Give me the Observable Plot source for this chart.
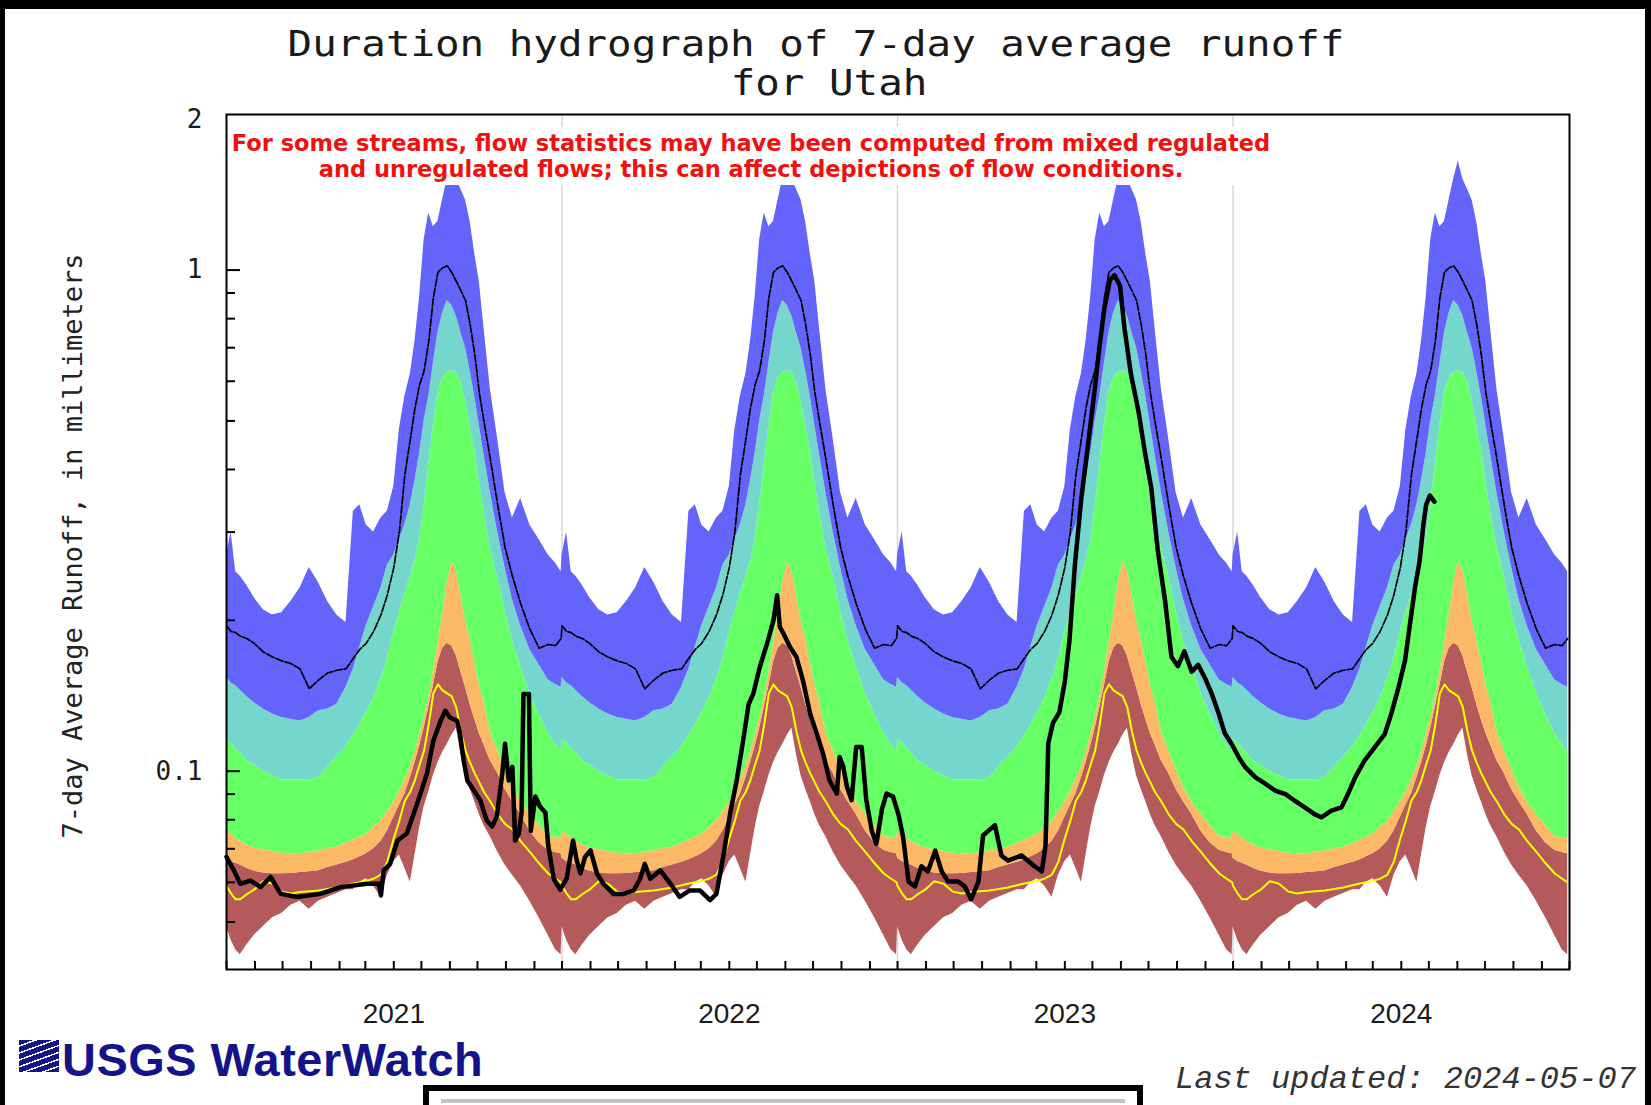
<!DOCTYPE html>
<html>
<head>
<meta charset="utf-8">
<script src="https://cdn.jsdelivr.net/npm/d3@7"></script>
<script src="https://cdn.jsdelivr.net/npm/@observablehq/plot@0.6"></script>
<style>
  html, body { margin: 0; padding: 0; background: #fff; }
  #page { position: relative; width: 1651px; height: 1105px; overflow: hidden; background: #fff; }
  #chart { position: absolute; left: 0; top: 0; }
  #chart svg { display: block; max-width: none; }
  .abs { position: absolute; white-space: nowrap; line-height: 1; }
  .blk { position: absolute; background: #000; }
</style>
</head>
<body>
<div id="page">
  <div id="chart"></div>

  <!-- white note box over the top of the plot, as in the reference -->
  <div class="abs" style="left:228px;top:127px;width:1057px;height:58px;background:#fff;"></div>
  <div class="abs" style="left:751px;top:130px;transform:translateX(-50%);font:bold 22.5px 'DejaVu Sans';line-height:26px;color:#f01010;text-align:center;">For some streams, flow statistics may have been computed from mixed regulated<br>and unregulated flows; this can affect depictions of flow conditions.</div>

  <div class="abs" style="left:815.5px;top:25.5px;font-size:36px;font-family:'DejaVu Sans Mono';color:#1a1a1a;transform:translateX(-50%) scaleX(1.134);">Duration hydrograph of 7-day average runoff</div>
  <div class="abs" style="left:829px;top:64.5px;font-size:36px;font-family:'DejaVu Sans Mono';color:#1a1a1a;transform:translateX(-50%) scaleX(1.134);">for Utah</div>

  <div class="abs" style="left:72px;top:546px;font-size:27px;font-family:'DejaVu Sans Mono';color:#222;transform:translate(-50%,-50%) rotate(-90deg);">7-day Average Runoff, in millimeters</div>

  <!-- USGS WaterWatch logo -->
  <div class="abs" style="left:19px;top:1040px;width:40px;height:32px;background:repeating-linear-gradient(160deg,#14148a 0px,#14148a 5px,#ffffff 5px,#ffffff 6.5px);"></div>
  <div class="abs" style="left:62px;top:1033px;font:bold 46px 'Liberation Sans';letter-spacing:0.5px;color:#14148a;transform-origin:0 0;transform:scaleX(1.02);">USGS WaterWatch</div>

  <div class="abs" style="left:1175px;top:1061px;font:italic 32px 'Liberation Mono';color:#333;">Last updated: 2024-05-07</div>

  <!-- bottom framed panel (cut off by the picture edge) -->
  <div class="abs" style="left:423px;top:1085px;width:708px;height:40px;border:6px solid #000;background:#fff;"></div>
  <div class="abs" style="left:441px;top:1099px;width:684px;height:4px;background:#c4c4c4;"></div>

  <!-- black picture border -->
  <div class="blk" style="left:0;top:0;width:1651px;height:9px;"></div>
  <div class="blk" style="left:0;top:0;width:5px;height:1105px;"></div>
  <div class="blk" style="left:1645px;top:0;width:6px;height:1105px;"></div>
</div>

<script>
// ---------- DATA ----------
// Water years shown (start year of each water year: Oct 1 .. Sep 30)
const waterYearStarts = [2020, 2021, 2022, 2023];

// Day of water year (0 = Oct 1) at which the daily statistics were read
const climDay = [0,5,10,15,22,30,40,50,60,70,80,90,100,110,120,130,138,145,152,160,168,175,182,188,194,200,205,210,215,220,225,230,235,240,245,250,255,260,265,270,275,280,287,295,303,311,320,330,340,350,358,364];

// Percentile-class boundaries of the 7-day average runoff (mm)
const climMin = [0.049,0.046,0.044,0.043,0.045,0.047,0.049,0.051,0.052,0.054,0.055,0.053,0.055,0.056,0.057,0.058,0.058,0.060,0.061,0.059,0.056,0.062,0.066,0.068,0.064,0.060,0.068,0.077,0.085,0.091,0.098,0.104,0.109,0.113,0.118,0.122,0.108,0.098,0.092,0.087,0.082,0.078,0.074,0.069,0.065,0.062,0.059,0.055,0.051,0.047,0.044,0.043];
const climP10 = [0.067,0.066,0.0655,0.065,0.064,0.0632,0.0626,0.0624,0.0624,0.0625,0.0628,0.063,0.0633,0.0642,0.065,0.0658,0.0666,0.0675,0.0684,0.070,0.0725,0.076,0.081,0.0855,0.090,0.097,0.104,0.112,0.122,0.134,0.148,0.165,0.176,0.180,0.178,0.170,0.158,0.147,0.136,0.127,0.119,0.113,0.105,0.099,0.092,0.087,0.082,0.076,0.072,0.0695,0.0688,0.0684];
const climP25 = [0.076,0.075,0.0735,0.0725,0.0712,0.0703,0.0697,0.0692,0.0686,0.0684,0.0684,0.0688,0.0694,0.0700,0.0706,0.0718,0.0728,0.0738,0.0748,0.0772,0.0795,0.083,0.087,0.091,0.096,0.102,0.109,0.118,0.128,0.140,0.158,0.180,0.205,0.238,0.262,0.252,0.225,0.200,0.183,0.165,0.149,0.138,0.120,0.110,0.101,0.093,0.087,0.082,0.078,0.074,0.0738,0.0735];
const climP75 = [0.116,0.114,0.111,0.109,0.105,0.103,0.100,0.098,0.096,0.096,0.096,0.096,0.097,0.102,0.107,0.112,0.118,0.124,0.131,0.140,0.153,0.168,0.19,0.207,0.226,0.245,0.263,0.29,0.34,0.41,0.49,0.57,0.61,0.625,0.63,0.625,0.60,0.55,0.49,0.44,0.38,0.33,0.28,0.245,0.209,0.183,0.162,0.143,0.130,0.119,0.113,0.110];
const climP90 = [0.154,0.150,0.148,0.145,0.141,0.137,0.133,0.130,0.128,0.127,0.126,0.128,0.132,0.133,0.136,0.147,0.160,0.177,0.195,0.213,0.232,0.258,0.27,0.29,0.31,0.34,0.38,0.43,0.50,0.56,0.65,0.75,0.82,0.87,0.85,0.81,0.75,0.70,0.63,0.56,0.49,0.43,0.36,0.30,0.255,0.22,0.195,0.175,0.163,0.152,0.149,0.147];
const climMax = [0.27,0.30,0.25,0.245,0.235,0.222,0.21,0.205,0.207,0.218,0.232,0.255,0.238,0.218,0.205,0.198,0.33,0.34,0.31,0.30,0.32,0.33,0.37,0.48,0.56,0.62,0.72,0.88,1.15,1.30,1.22,1.25,1.38,1.52,1.65,1.52,1.45,1.38,1.25,1.08,0.95,0.77,0.58,0.46,0.36,0.32,0.35,0.31,0.29,0.27,0.26,0.25];
// Thin black (dashed) statistic line and yellow statistic line
const climMean = [0.195,0.190,0.189,0.186,0.184,0.180,0.173,0.169,0.166,0.164,0.160,0.146,0.152,0.157,0.159,0.160,0.168,0.175,0.180,0.190,0.205,0.225,0.255,0.30,0.39,0.46,0.53,0.59,0.63,0.72,0.88,0.99,1.01,1.02,0.99,0.95,0.91,0.87,0.78,0.68,0.57,0.50,0.42,0.34,0.28,0.245,0.216,0.192,0.176,0.179,0.178,0.184];
const climYellow = [0.0590,0.0570,0.0555,0.0555,0.0568,0.0580,0.0603,0.0596,0.0575,0.0570,0.0574,0.0576,0.0578,0.0582,0.0586,0.0592,0.0597,0.0600,0.0604,0.0610,0.0622,0.0660,0.0735,0.0796,0.0873,0.091,0.096,0.103,0.110,0.124,0.143,0.149,0.145,0.143,0.141,0.134,0.120,0.110,0.104,0.099,0.095,0.091,0.087,0.082,0.0785,0.0765,0.0725,0.0690,0.0655,0.0625,0.0610,0.0600];

// Observed 7-day average runoff (thick black line): days since 2020-10-01 and value (mm)
const obsDay = [0,8,15,26,37,48,59,77,102,124,153,166,168,171,178,186,196,204,211,218,225,233,238,243,251,254,258,262,269,276,283,289,294,300,303,307,311,314,318,321,323,329,331,336,341,347,350,356,363,
  370,377,381,385,390,396,403,410,421,432,443,450,455,461,472,483,493,504,515,526,533,541,548,555,562,568,573,580,588,595,599,602,606,613,620,627,635,642,649,656,664,667,671,675,680,685,691,696,702,707,713,718,725,731,736,742,
  749,756,763,771,778,785,796,803,810,818,823,829,836,843,850,865,879,887,891,894,899,906,912,917,923,930,937,945,950,955,961,966,972,977,984,992,999,1006,1013,1021,1028,1035,1042,1050,1057,1064,1071,1079,1086,1093,1102,
  1108,1119,1130,1141,1152,1162,1173,1184,1191,1202,1213,1220,1228,1238,1249,1260,1267,1275,1282,1287,1293,1298,1302,1305,1309,1314];
const obsRunoff = [0.0674,0.0634,0.0596,0.0605,0.0587,0.0615,0.0569,0.0561,0.0569,0.0587,0.0596,0.0596,0.0565,0.0634,0.0653,0.0727,0.0750,0.0826,0.0902,0.0988,0.115,0.126,0.132,0.128,0.126,0.119,0.105,0.0958,0.0916,0.0875,0.0798,0.0775,0.0811,0.0988,0.1134,0.0958,0.102,0.0727,0.075,0.0826,0.1426,0.1426,0.076,0.089,0.085,0.0826,0.071,0.061,0.058,
  0.061,0.0727,0.0664,0.0625,0.0674,0.0695,0.0625,0.0596,0.0569,0.0569,0.0578,0.061,0.0653,0.061,0.0634,0.0596,0.0561,0.0578,0.0578,0.0553,0.0569,0.0685,0.0826,0.0958,0.115,0.136,0.1426,0.161,0.1796,0.2,0.2244,0.194,0.188,0.177,0.169,0.152,0.130,0.119,0.1084,0.0958,0.0902,0.1067,0.102,0.093,0.0875,0.1118,0.1118,0.0875,0.076,0.0716,0.0839,0.0902,0.089,0.082,0.074,0.0602,
  0.0589,0.0646,0.0631,0.0694,0.0631,0.0602,0.0602,0.0589,0.0555,0.0602,0.0744,0.0761,0.078,0.0679,0.0663,0.0679,0.0646,0.0631,0.0711,0.1137,0.1247,0.131,0.151,0.182,0.259,0.351,0.445,0.589,0.711,0.838,0.954,0.977,0.931,0.763,0.618,0.524,0.434,0.368,0.277,0.219,0.169,0.162,0.1735,0.158,0.163,0.154,0.144,0.131,0.119,0.1137,0.106,
  0.102,0.0973,0.0944,0.0914,0.090,0.0873,0.0847,0.082,0.0809,0.0834,0.0847,0.090,0.0973,0.105,0.1116,0.1186,0.130,0.147,0.166,0.194,0.233,0.263,0.31,0.34,0.355,0.345];

// Axis labels / ticks
const yLabelTicks = [2, 1, 0.1];
const yMajorTicks = [1, 0.1];
const yMinorTicks = [0.05, 0.06, 0.07, 0.08, 0.09, 0.2, 0.3, 0.4, 0.5, 0.6, 0.7, 0.8, 0.9];
const yearLabels = [2021, 2022, 2023, 2024];   // water years, labelled at mid water year (Apr 1)
const gridYears = [2021, 2022, 2023];          // Oct 1 water-year boundaries
const bandColors = ["#b55a5a", "#fbb966", "#66ff66", "#74d6cc", "#6464fa"];
const yDomain = [0.0402, 2.044];

// ---------- build tables ----------
const utc = (y, m, d) => new Date(Date.UTC(y, m, d));
const clim = waterYearStarts.flatMap(y => climDay.map((d, i) => ({
  date: utc(y, 9, 1 + d),
  min: climMin[i], p10: climP10[i], p25: climP25[i], p75: climP75[i], p90: climP90[i], max: climMax[i],
  mean: climMean[i], yellow: climYellow[i]
})));
const obs = obsDay.map((d, i) => ({date: utc(2020, 9, 1 + d), v: obsRunoff[i]}));

const xStart = utc(waterYearStarts[0], 9, 1);
const xEnd = utc(waterYearStarts[waterYearStarts.length - 1] + 1, 9, 1);
const monthTicks = d3.utcMonth.range(xStart, utc(2024, 9, 2));
const yearLabelDates = yearLabels.map(y => utc(y, 3, 1));
const gridDates = gridYears.map(y => utc(y, 9, 1));

const W = 1651, H = 1105, mT = 114, mR = 82, mB = 136, mL = 226;
const plotW = W - mL - mR, plotH = H - mT - mB;

const chart = Plot.plot({
  width: W, height: H,
  marginTop: mT, marginRight: mR, marginBottom: mB, marginLeft: mL,
  style: {background: "transparent", fontFamily: "DejaVu Sans Mono", fontSize: "26px", color: "#1a1a1a", overflow: "visible"},
  x: {type: "utc", domain: [xStart, xEnd]},
  y: {type: "log", domain: yDomain},
  marks: [
    Plot.ruleX(gridDates, {x: d => d, stroke: "#d6d6d6", strokeWidth: 1.5}),
    Plot.areaY(clim, {x: "date", y1: "min", y2: "p10", fill: bandColors[0]}),
    Plot.areaY(clim, {x: "date", y1: "p10", y2: "p25", fill: bandColors[1]}),
    Plot.areaY(clim, {x: "date", y1: "p25", y2: "p75", fill: bandColors[2]}),
    Plot.areaY(clim, {x: "date", y1: "p75", y2: "p90", fill: bandColors[3]}),
    Plot.areaY(clim, {x: "date", y1: "p90", y2: "max", fill: bandColors[4]}),
    Plot.lineY(clim, {x: "date", y: "yellow", stroke: "#ffff00", strokeWidth: 2}),
    Plot.lineY(clim, {x: "date", y: "mean", stroke: "#000", strokeWidth: 1.7, strokeDasharray: "8,2"}),
    Plot.lineY(obs, {x: "date", y: "v", stroke: "#000", strokeWidth: 4.5, strokeLinejoin: "round"}),
    Plot.tickY(yMinorTicks, {y: d => d, stroke: "#000", strokeWidth: 2, insetRight: plotW - 9}),
    Plot.tickY(yMajorTicks, {y: d => d, stroke: "#000", strokeWidth: 2, insetRight: plotW - 14}),
    Plot.tickX(monthTicks, {x: d => d, stroke: "#000", strokeWidth: 2, insetTop: plotH - 8}),
    Plot.axisY({ticks: yLabelTicks, tickSize: 0, tickPadding: 24, tickFormat: d => String(d),
      fontSize: 26, fontFamily: "DejaVu Sans Mono", fill: "#1a1a1a", label: null}),
    Plot.axisX({ticks: yearLabelDates, tickSize: 0, tickPadding: 34, tickFormat: d3.utcFormat("%Y"),
      fontSize: 28, fontFamily: "Liberation Sans", fill: "#1a1a1a", label: null}),
    Plot.frame({stroke: "#000", strokeWidth: 2})
  ]
});
document.getElementById("chart").appendChild(chart);
</script>
</body>
</html>
